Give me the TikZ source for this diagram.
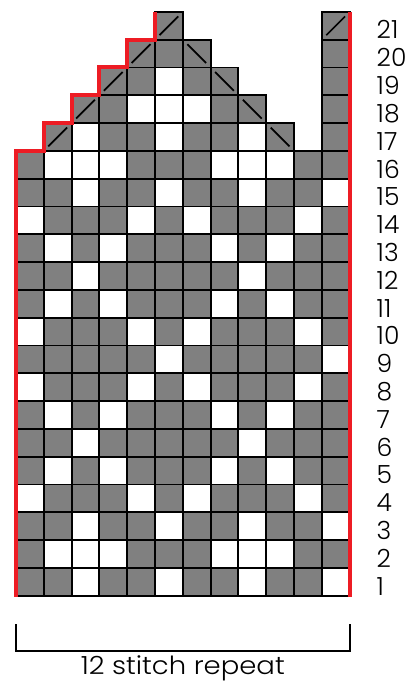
\documentclass[tikz,border=0pt]{standalone}
\usepackage{fontspec}
\usepackage{graphicx}
\setmainfont{Poppins}[UprightFont=* Light]
\definecolor{cellgray}{HTML}{808080}
\definecolor{chartred}{HTML}{ED1C24}
\newcommand\cw{27.8}
\newcommand\xo{16}
\newcommand\yb{595.7}
\newcommand\chartcell[3]{%
  \filldraw[cellbox,fill=#3] ({\xo+(#1-1)*\cw},{\yb-(#2-1)*\cw}) rectangle +(\cw,-\cw);}
\begin{document}
\begin{tikzpicture}[x=1pt,y=-1pt,
  cellbox/.style={draw=black,line width=1.9pt},
  diagline/.style={draw=black,line width=1.7pt},
  redline/.style={draw=chartred,line width=4pt,line join=miter},
  bracketline/.style={draw=black,line width=2pt},
  rowlabel/.style={anchor=base west,inner sep=0pt,font=\fontsize{25}{30}\selectfont},
  replabel/.style={anchor=base,inner sep=0pt,font=\fontsize{25}{30}\selectfont}]
\useasboundingbox (0,0) rectangle (414,682);
% gray cells
\foreach \r in {1,...,16}{\foreach \c in {1,...,12}{\chartcell{\c}{\r}{cellgray}}}
\foreach \r in {17,...,21}{%
  \pgfmathtruncatemacro\ca{\r-15}%
  \pgfmathtruncatemacro\cb{27-\r}%
  \foreach \c in {\ca,...,\cb}{\chartcell{\c}{\r}{cellgray}}%
  \chartcell{12}{\r}{cellgray}}
% white cells
\foreach \r/\cols in {1/{3,6,9,12},2/{2,3,4,8,9,10},3/{3,6,9,12},4/{1,5,7,11},
  5/{2,4,8,10},6/{3,9},7/{2,4,8,10},8/{1,5,7,11},9/{6,12},10/{1,5,7,11},
  11/{2,4,8,10},12/{3,9},13/{2,4,8,10},14/{1,5,7,11},15/{3,6,9,12},
  16/{2,3,4,8,9,10},17/{3,6,9},18/{5,6,7},19/{6}}{%
  \foreach \c in \cols {\chartcell{\c}{\r}{white}}}
% diagonals
\foreach \r in {17,...,21}{%
  \pgfmathsetmacro\lx{\xo+(\r-16)*\cw}%
  \pgfmathsetmacro\by{\yb-(\r-1)*\cw}%
  \draw[diagline] (\lx+4.5,\by-4.5) -- (\lx+\cw-4.5,\by-\cw+4.5);}
\foreach \r in {17,...,20}{%
  \pgfmathsetmacro\lx{\xo+(26-\r)*\cw}%
  \pgfmathsetmacro\by{\yb-(\r-1)*\cw}%
  \draw[diagline] (\lx+4.5,\by-\cw+4.5) -- (\lx+\cw-4.5,\by-4.5);}
\draw[diagline] (321.8+4.5,39.7-4.5) -- (349.6-4.5,11.9+4.5);
% red edges
\draw[redline] (16,596.6) |- (43.8,150.9) |- (71.6,123.1) |- (99.4,95.3)
  |- (127.2,67.5) |- (155,39.7) -- (155,11.9);
\draw[redline] (349.6,11.9) -- (349.6,596.6);
% row numbers
\foreach \r in {1,...,21}{%
  \node[rowlabel] (lab\r) at (376.5,{\yb-(\r-1)*\cw-0.7}) {\r};}
% bracket
\coordinate (bl) at (16,624);
\coordinate (br) at (349.6,624);
\draw[bracketline] (bl) -- ++(0,27) -| (br);
\node[replabel] (rep) at (182.8,674.5) {\scalebox{1.1}[1]{12 stitch repeat}};
\end{tikzpicture}
\end{document}
